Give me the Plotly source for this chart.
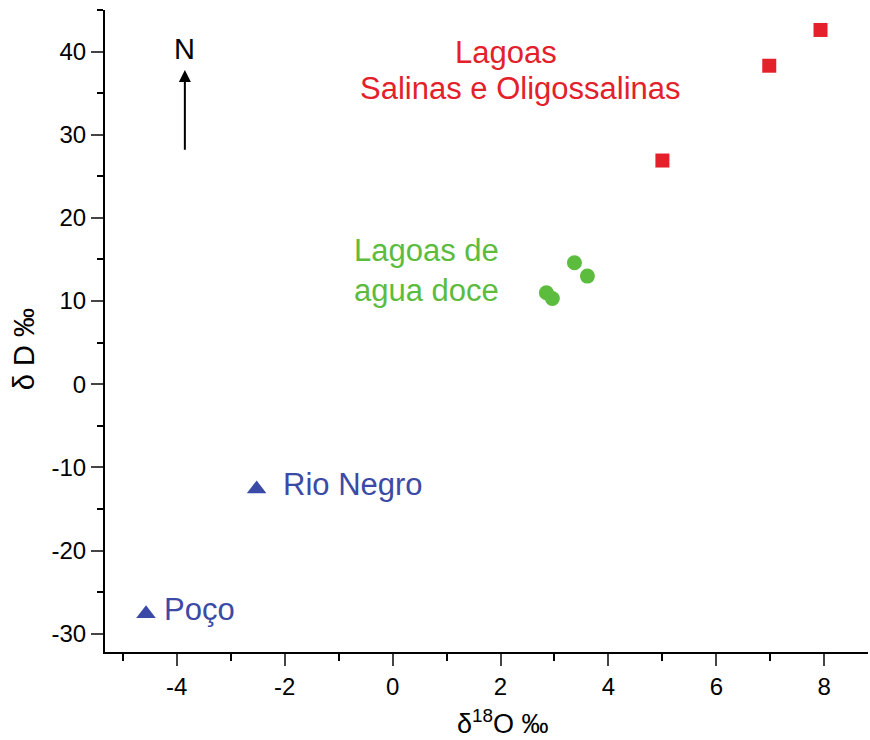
import plotly.graph_objects as go

# Data
salinas_x = [5.0, 6.98, 7.93]
salinas_y = [26.9, 38.3, 42.6]
doce_x = [3.37, 3.61, 2.85, 2.96]
doce_y = [14.6, 13.0, 11.0, 10.3]
rio_x = [-2.52, -4.57]
rio_y = [-12.6, -27.6]

x_ticks = [-4, -2, 0, 2, 4, 6, 8]
x_ticktext = ["-4", "-2", "0", "2", "4", "6", "8"]
y_ticks = [-30, -20, -10, 0, 10, 20, 30, 40]
y_ticktext = ["-30", "-20", "-10", "0", "10", "20", "30", "40"]

RED = "#e4202a"
GREEN = "#5cbc3e"
BLUE = "#3a4aa6"
FONT = "Liberation Sans, Arial, sans-serif"

fig = go.Figure()
fig.add_trace(go.Scatter(x=salinas_x, y=salinas_y, mode="markers",
                         marker=dict(symbol="square", size=14, color=RED), showlegend=False))
fig.add_trace(go.Scatter(x=doce_x, y=doce_y, mode="markers",
                         marker=dict(symbol="circle", size=15, color=GREEN), showlegend=False))
fig.add_trace(go.Scatter(x=rio_x, y=rio_y, mode="markers",
                         marker=dict(symbol="triangle-up", size=17, color=BLUE), showlegend=False))

ann = []
def t(x, y, text, color, size, xanchor="center"):
    ann.append(dict(x=x, y=y, xref="x", yref="y", text=text, showarrow=False,
                    font=dict(family=FONT, size=size, color=color), xanchor=xanchor, yanchor="middle"))

t(2.11, 39.9, "Lagoas", RED, 31)
t(2.37, 35.6, "Salinas e Oligossalinas", RED, 31)
t(0.62, 16.1, "Lagoas de", GREEN, 31)
t(0.62, 11.3, "agua doce", GREEN, 31)
t(-2.06, -12.1, "Rio Negro", BLUE, 31, "left")
t(-4.27, -27.1, "Poço", BLUE, 31, "left")
t(-3.85, 40.3, "N", "black", 29)

ann.append(dict(x=-3.85, y=37.8, ax=-3.85, ay=28.0, xref="x", yref="y", axref="x", ayref="y",
                showarrow=True, arrowhead=2, arrowsize=1.2, arrowwidth=2, arrowcolor="black", text=""))

# axis titles
ann.append(dict(x=2.04, y=0, xref="x", yref="paper", yshift=-70, text="δ<sup>18</sup>O ‰",
                showarrow=False, font=dict(family=FONT, size=27, color="black"),
                xanchor="center", yanchor="middle"))
ann.append(dict(x=0, y=4.2, xref="paper", yref="y", xshift=-81, text="δ D ‰", textangle=-90,
                showarrow=False, font=dict(family=FONT, size=29, color="black"),
                xanchor="center", yanchor="middle"))

fig.update_layout(
    width=870, height=740,
    margin=dict(l=105, r=2, t=10, b=88),
    plot_bgcolor="white", paper_bgcolor="white",
    font=dict(family=FONT, size=24, color="black"),
    annotations=ann,
    xaxis=dict(range=[-5.33, 8.81], tickvals=x_ticks, ticktext=x_ticktext, ticks="outside",
               ticklen=12, tickwidth=2,
               showline=True, linewidth=2, linecolor="black", showgrid=False, zeroline=False,
               minor=dict(dtick=1, tick0=0, ticks="outside", ticklen=7, tickwidth=2, tickcolor="black"),
               tickfont=dict(size=24)),
    yaxis=dict(range=[-32.2, 45.0], tickvals=y_ticks, ticktext=y_ticktext, ticks="outside",
               ticklen=12, tickwidth=2,
               showline=True, linewidth=2, linecolor="black", showgrid=False, zeroline=False,
               minor=dict(dtick=5, tick0=0, ticks="outside", ticklen=6, tickwidth=2, tickcolor="black"),
               tickfont=dict(size=24)),
)

fig.write_html("out.html")
